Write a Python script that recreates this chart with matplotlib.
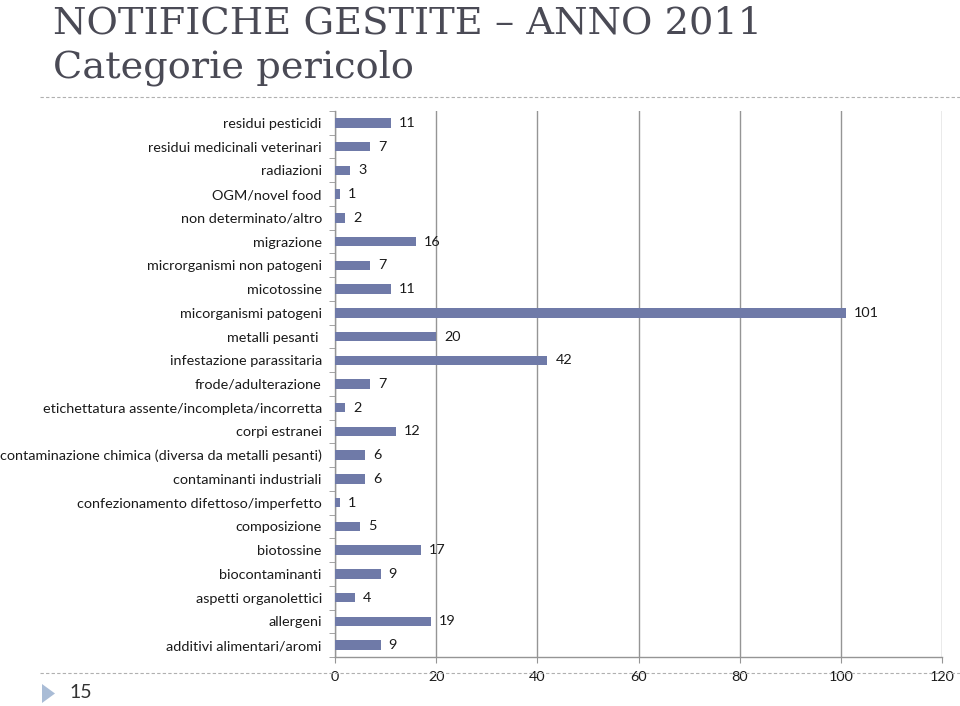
import numpy as np
import matplotlib.pyplot as plt
from matplotlib.lines import Line2D
from matplotlib.patches import Polygon

# Dati (dall'alto verso il basso)
categorie = [
    "residui pesticidi", "residui medicinali veterinari", "radiazioni",
    "OGM/novel food", "non determinato/altro", "migrazione",
    "microrganismi non patogeni", "micotossine", "micorganismi patogeni",
    "metalli pesanti ", "infestazione parassitaria", "frode/adulterazione",
    "etichettatura assente/incompleta/incorretta", "corpi estranei",
    "contaminazione chimica (diversa da metalli pesanti)",
    "contaminanti industriali", "confezionamento difettoso/imperfetto",
    "composizione", "biotossine", "biocontaminanti",
    "aspetti organolettici", "allergeni", "additivi alimentari/aromi",
]
valori = [11, 7, 3, 1, 2, 16, 7, 11, 101, 20, 42, 7, 2, 12, 6, 6, 1, 5, 17, 9, 4, 19, 9]
x_ticks = [0, 20, 40, 60, 80, 100, 120]

font_lab = "Lato"
col_text = "#1a1a1a"
col_bar = "#6f7aa8"
col_grid = "#959595"
fs = 10.4

fig = plt.figure(figsize=(9.6, 7.06), dpi=100)

# Titolo
fig.text(53 / 960, 1 - 33 / 706, "NOTIFICHE GESTITE \u2013 ANNO 2011",
         family="DejaVu Serif", fontsize=27.6, color="#4a4a55", va="baseline")
fig.text(53 / 960, 1 - 77 / 706, "Categorie pericolo",
         family="DejaVu Serif", fontsize=27.6, color="#4a4a55", va="baseline")
fig.add_artist(Line2D([40 / 960, 1], [1 - 97 / 706] * 2, transform=fig.transFigure,
                      color="#b0b0b0", lw=0.8, ls=(0, (3, 2))))
# Footer
fig.add_artist(Line2D([40 / 960, 1], [1 - 673 / 706] * 2, transform=fig.transFigure,
                      color="#b0b0b0", lw=0.8, ls=(0, (3, 2))))
fig.add_artist(Polygon([[42 / 960, 1 - 684 / 706], [42 / 960, 1 - 703 / 706], [55 / 960, 1 - 693.5 / 706]],
                       closed=True, transform=fig.transFigure, color="#a9bcd6", lw=0))
fig.text(69 / 960, 1 - 693 / 706, "15", family=font_lab, fontsize=14,
         color="#333333", va="center")

ax = fig.add_axes([335 / 960, 1 - 657 / 706, (942 - 335) / 960, (657 - 111) / 706])
n = len(categorie)
y = np.arange(n)
ax.barh(y, valori, height=0.4, color=col_bar, zorder=3)
ax.set_ylim(n - 0.5, -0.5)
ax.set_xlim(0, 120)
ax.set_yticks(y)
ax.set_yticklabels(categorie, family=font_lab, fontsize=fs, color=col_text)
ax.set_yticks(np.arange(-0.5, n, 1), minor=True)
ax.tick_params(axis="y", which="major", length=0, pad=9.5)
ax.tick_params(axis="y", which="minor", length=4, color=col_grid, direction="out")
ax.set_xticks(x_ticks)
ax.set_xticklabels([str(t) for t in x_ticks], family=font_lab, fontsize=fs, color=col_text)
ax.tick_params(axis="x", length=4, color=col_grid, direction="out", pad=6)
ax.grid(axis="x", color=col_grid, lw=1.0, zorder=0)
for s in ["top", "right"]:
    ax.spines[s].set_visible(False)
for s in ["left", "bottom"]:
    ax.spines[s].set_color(col_grid)
    ax.spines[s].set_linewidth(1.0)

for yi, v in zip(y, valori):
    ax.text(v + 1.6, yi, str(v), family=font_lab, fontsize=fs, color=col_text,
            va="center", ha="left")

fig.savefig("out.png", dpi=100)
